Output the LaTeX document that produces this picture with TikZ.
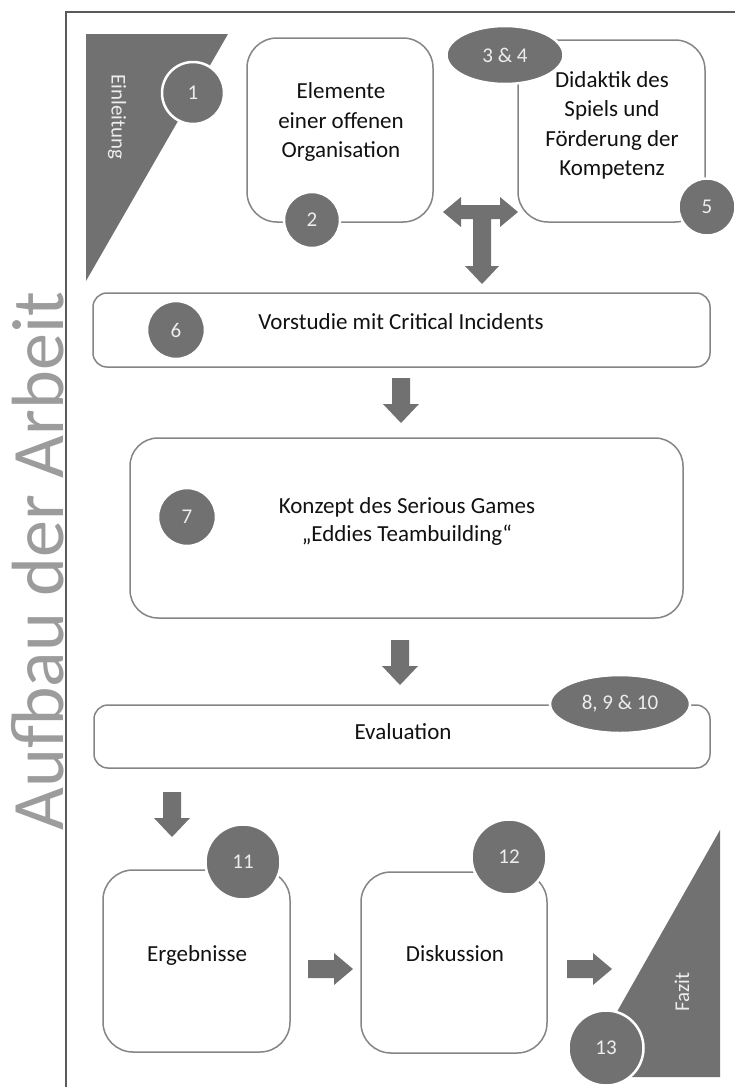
\documentclass[tikz,border=0pt]{standalone}
\usepackage{fontspec}
\setmainfont{Carlito}
\usetikzlibrary{shapes.geometric}
\definecolor{fillgray}{HTML}{717171}
\definecolor{linegray}{HTML}{858585}
\definecolor{framegray}{HTML}{5A5A5A}
\definecolor{titlegray}{HTML}{9C9C9C}
\definecolor{numtext}{HTML}{EDEDED}
\definecolor{maintext}{HTML}{111111}
\tikzset{
  box/.style={draw=linegray, line width=1.5pt, fill=white, rectangle, rounded corners=#1, inner sep=0pt},
  box/.default=14pt,
  num/.style={circle, fill=fillgray, draw=white, line width=2.5pt, minimum size=#1, inner sep=0pt,
    text=numtext, font=\fontsize{21}{21}\selectfont},
  ellnum/.style={ellipse, fill=fillgray, draw=white, line width=2.5pt, minimum width=#1, minimum height=58pt,
    inner sep=0pt, text=numtext, font=\fontsize{21}{21}\selectfont},
  lbl/.style={font=\fontsize{23}{29.5}\selectfont, align=center, inner sep=0pt, text=maintext},
  sidelbl/.style={font=\fontsize{21}{21}\selectfont, inner sep=0pt, text=numtext},
  darrow/.pic={\fill[fillgray] (-9,-22) -- (9,-22) -- (9,4) -- (18,4) -- (0,23) -- (-18,4) -- (-9,4) -- cycle;},
  rarrow/.pic={\fill[fillgray] (-22,-9) -- (4,-9) -- (4,-16) -- (23,0) -- (4,16) -- (4,9) -- (-22,9) -- cycle;}
}
\begin{document}
\begin{tikzpicture}[x=1pt,y=-1pt]
\fill[white] (0,0) rectangle (735,1087);
\useasboundingbox (0,0) rectangle (735,1087);

% frame
\draw[framegray, line width=2pt] (735,12) -- (66,12) -- (66,1087);

% title
\node[rotate=90, text=titlegray, font=\fontsize{74}{74}\selectfont, inner sep=0pt] (title) at (38,561) {Aufbau der Arbeit};

% triangles
\fill[fillgray] (86,34) -- (228,34) -- (86,281) -- cycle;
\node[sidelbl, rotate=-90] (einl) at (117,117) {Einleitung};
\fill[fillgray] (720,830) -- (720,1077) -- (580,1077) -- cycle;
\node[sidelbl, rotate=90] (fazit) at (682,992) {Fazit};

% boxes
\node[box=30pt, minimum width=186pt, minimum height=184pt] (b2) at (340,130) {};
\node[box=30pt, minimum width=187pt, minimum height=182pt] (b5) at (611.5,131) {};
\node[box=14pt, minimum width=617pt, minimum height=74pt] (b6) at (401.5,330) {};
\node[box=28pt, minimum width=553pt, minimum height=180pt] (b7) at (406.5,528) {};
\node[box=14pt, minimum width=616pt, minimum height=63pt] (b8) at (402,736.5) {};
\node[box=30pt, minimum width=187pt, minimum height=182pt] (b11) at (196.5,961) {};
\node[box=30pt, minimum width=186pt, minimum height=181pt] (b12) at (454,962.5) {};

% texts
\node[lbl] (t2) at (341,122) {Elemente\\einer offenen\\Organisation};
\node[lbl] (t5) at (612,125.5) {Didaktik des\\Spiels und\\Förderung der\\Kompetenz};
\node[lbl] (t6) at (401,322) {Vorstudie mit Critical Incidents};
\node[lbl, font=\fontsize{23}{28}\selectfont] (t7) at (407,521) {Konzept des Serious Games\\„Eddies Teambuilding“};
\node[lbl] (t8) at (403,732) {Evaluation};
\node[lbl] (t11) at (197,955) {Ergebnisse};
\node[lbl] (t12) at (455,954) {Diskussion};

% number badges
\node[num=62pt] (n1) at (193,93) {1};
\node[num=56pt] (n2) at (312,220) {2};
\node[ellnum=117pt] (n34) at (505,55) {3 \& 4};
\node[num=57pt] (n5) at (707,207) {5};
\node[num=58pt] (n6) at (176,330) {6};
\node[num=58pt] (n7) at (187,517) {7};
\node[ellnum=140pt] (n810) at (620,704) {8, 9 \& 10};
\node[num=75pt] (n11) at (243,862) {11};
\node[num=75pt] (n12) at (509,857) {12};
\node[num=75pt] (n13) at (606,1048) {13};

% T-shaped arrow
\fill[fillgray] (443,212) -- (461,197) -- (461,205) -- (500,205) -- (500,197) -- (518,212)
  -- (500,227) -- (500,219) -- (491,219) -- (491,266) -- (499,266) -- (482,284)
  -- (465,266) -- (473,266) -- (473,219) -- (461,219) -- (461,227) -- cycle;

% block arrows
\pic (a1) at (401,400) {darrow};
\pic (a2) at (400,662) {darrow};
\pic (a3) at (172,814) {darrow};
\pic (a4) at (330,969) {rarrow};
\pic (a5) at (589,969) {rarrow};
\end{tikzpicture}
\end{document}
